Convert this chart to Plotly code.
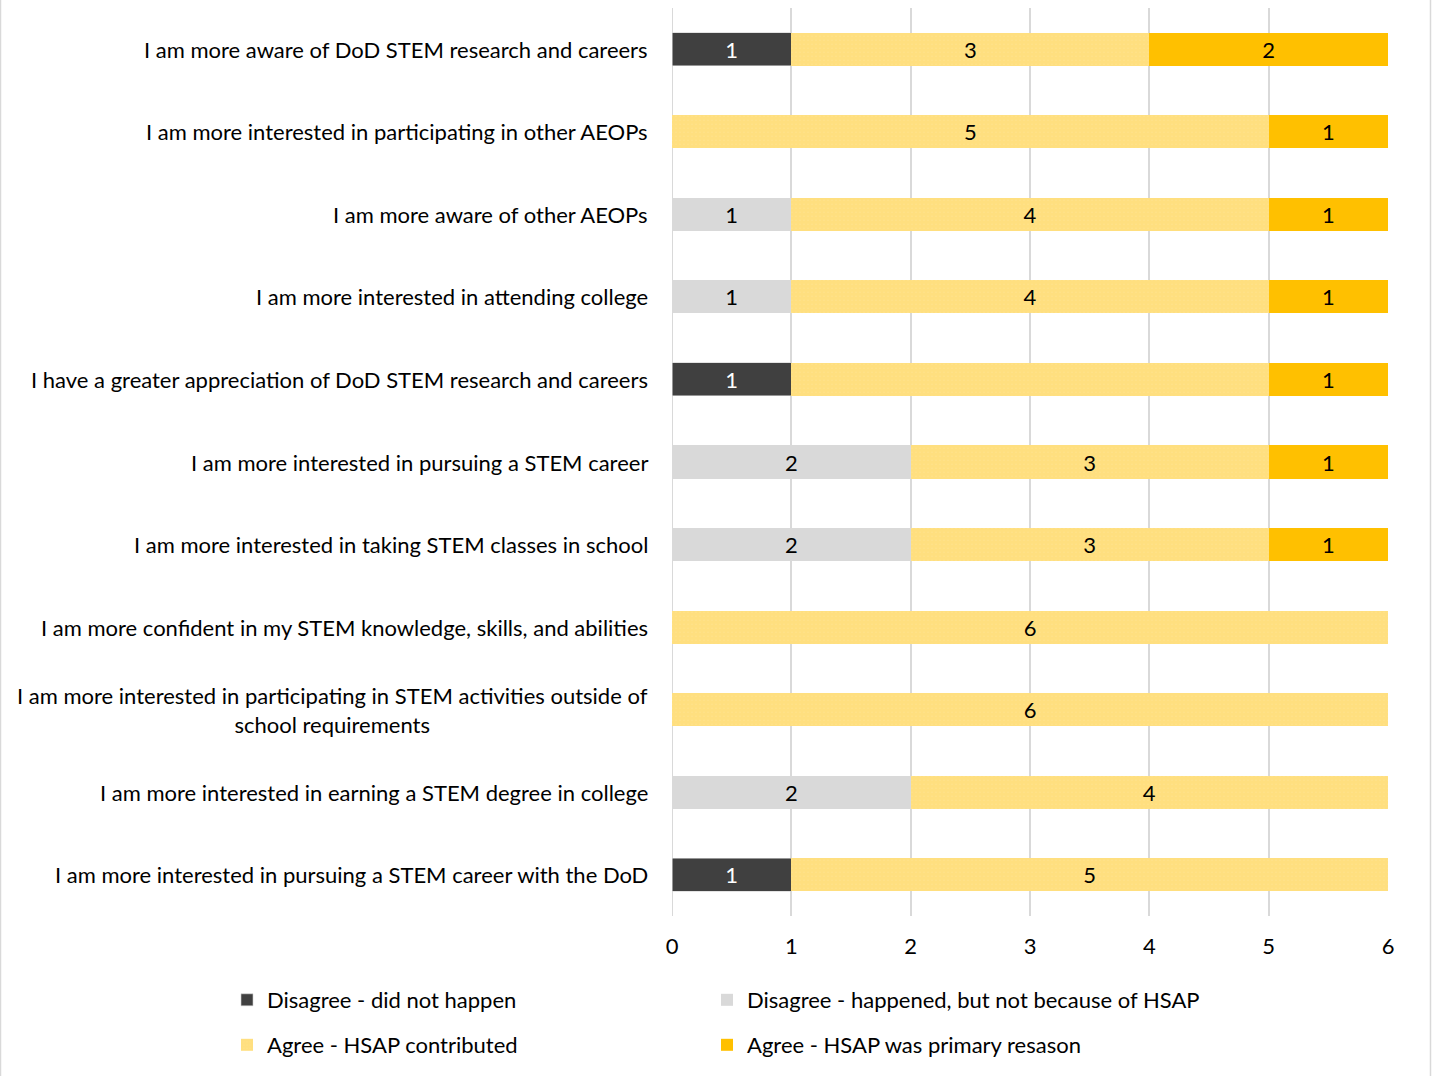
import plotly.graph_objects as go

categories = [
    "I am more aware of DoD STEM research and careers",
    "I am more interested in participating in other AEOPs",
    "I am more aware of other AEOPs",
    "I am more interested in attending college",
    "I have a greater appreciation of DoD STEM research and careers",
    "I am more interested in pursuing a STEM career",
    "I am more interested in taking STEM classes in school",
    "I am more confident in my STEM knowledge, skills, and abilities",
    "I am more interested in participating in STEM activities outside of<br>school requirements",
    "I am more interested in earning a STEM degree in college",
    "I am more interested in pursuing a STEM career with the DoD",
]

series_names = [
    "Disagree - did not happen",
    "Disagree - happened, but not because of HSAP",
    "Agree - HSAP contributed",
    "Agree - HSAP was primary resason",
]

disagree_not_happen = [1, 0, 0, 0, 1, 0, 0, 0, 0, 0, 1]
disagree_not_hsap = [0, 0, 1, 1, 0, 2, 2, 0, 0, 2, 0]
agree_contributed = [3, 5, 4, 4, 4, 3, 3, 6, 6, 4, 5]
agree_primary = [2, 1, 1, 1, 1, 1, 1, 0, 0, 0, 0]

# data label shown in the original (one label absent in the source chart)
contributed_label_shown = [True, True, True, True, False, True, True, True, True, True, True]

x_ticks = [0, 1, 2, 3, 4, 5, 6]

FONT = "Lato"
FS = 22
YELLOW = "#FFC000"

def labels(vals, shown=None):
    out = []
    for i, v in enumerate(vals):
        if v == 0 or (shown is not None and not shown[i]):
            out.append("")
        else:
            out.append(str(v))
    return out

fig = go.Figure()

fig.add_trace(go.Bar(
    y=categories, x=disagree_not_happen, orientation="h", name=series_names[0],
    marker=dict(color="#404040", line=dict(color="#d0d0d0", width=0.6)),
    text=labels(disagree_not_happen), textposition="inside", insidetextanchor="middle",
    textfont=dict(color="white", size=FS, family=FONT), legend="legend",
))
fig.add_trace(go.Bar(
    y=categories, x=disagree_not_hsap, orientation="h", name=series_names[1],
    marker=dict(color="#D9D9D9", line=dict(width=0)),
    text=labels(disagree_not_hsap), textposition="inside", insidetextanchor="middle",
    textfont=dict(color="black", size=FS, family=FONT), legend="legend2",
))
fig.add_trace(go.Bar(
    y=categories, x=agree_contributed, orientation="h", name=series_names[2],
    marker=dict(color="white", line=dict(width=0),
                pattern=dict(shape=".", fgcolor=YELLOW, bgcolor="white", size=4, solidity=0.9)),
    text=labels(agree_contributed, contributed_label_shown), textposition="inside",
    insidetextanchor="middle",
    textfont=dict(color="black", size=FS, family=FONT), legend="legend3",
))
fig.add_trace(go.Bar(
    y=categories, x=agree_primary, orientation="h", name=series_names[3],
    marker=dict(color=YELLOW, line=dict(width=0)),
    text=labels(agree_primary), textposition="inside", insidetextanchor="middle",
    textfont=dict(color="black", size=FS, family=FONT), legend="legend4",
))

for c in categories:
    fig.add_annotation(
        x=0, xref="paper", y=c, yref="y", text=c, showarrow=False,
        xanchor="right", align="center", xshift=-22,
        font=dict(size=FS, family=FONT, color="black"),
    )

W, H = 1432, 1076
L, R, T, B = 672, 44, 8, 160
pw, ph = W - L - R, H - T - B
fig.add_shape(type="rect", xref="paper", yref="paper",
              x0=-(L - 0.5) / pw, x1=1 + (R - 1.5) / pw,
              y0=-(B + 5) / ph, y1=1 + (T + 5) / ph,
              line=dict(color="#D9D9D9", width=1.5), fillcolor="rgba(0,0,0,0)", layer="below")

def legend_cfg(left_px, top_px):
    return dict(orientation="h", x=(left_px - L) / pw, xanchor="left",
                y=-(top_px - T - ph) / ph, yanchor="top",
                traceorder="normal", font=dict(size=FS, family=FONT), itemwidth=30,
                bgcolor="rgba(0,0,0,0)")

fig.update_layout(
    width=W, height=H,
    barmode="stack", bargap=0.6,
    margin=dict(l=L, r=R, t=T, b=B),
    paper_bgcolor="white", plot_bgcolor="white",
    font=dict(family=FONT, size=FS, color="black"),
    uniformtext=dict(minsize=8, mode="show"),
    xaxis=dict(range=[0, 6], tickvals=x_ticks, showgrid=True, gridcolor="#D9D9D9", gridwidth=2,
               zeroline=False, showline=False, ticks="", tickfont=dict(size=FS, family=FONT),
               ticklabelstandoff=15),
    yaxis=dict(categoryorder="array", categoryarray=categories, autorange="reversed",
               showticklabels=False, showgrid=False, zeroline=False, ticks=""),
    legend=legend_cfg(227, 979),
    legend2=legend_cfg(707, 979),
    legend3=legend_cfg(227, 1024),
    legend4=legend_cfg(707, 1024),
    showlegend=True,
)
fig.add_vline(x=0, line=dict(color="#D9D9D9", width=2), layer="below")

fig.write_html("out.html")
